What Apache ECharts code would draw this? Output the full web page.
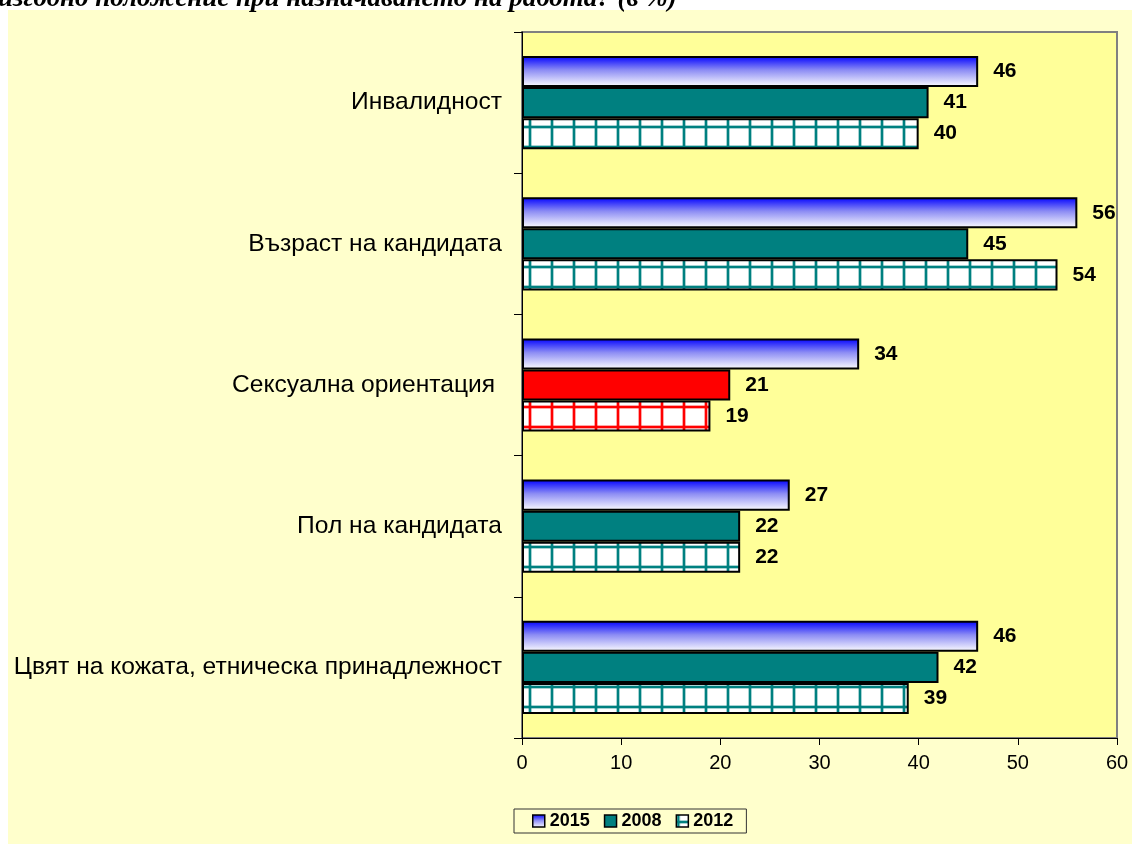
<!DOCTYPE html>
<html>
<head>
<meta charset="utf-8">
<script src="https://cdn.jsdelivr.net/npm/echarts@6/dist/echarts.min.js"></script>
<style>
  html, body { margin: 0; padding: 0; background: #ffffff; }
  #chart { width: 1132px; height: 844px; }
</style>
</head>
<body>
<div id="chart"></div>
<script>
// категории (отгоре надолу)
var categories = ['Инвалидност', 'Възраст на кандидата', 'Сексуална ориентация ', 'Пол на кандидата', 'Цвят на кожата, етническа принадлежност'];
var years = ['2015', '2008', '2012'];
var values2015 = [46, 56, 34, 27, 46];
var values2008 = [41, 45, 21, 22, 42];
var values2012 = [40, 54, 19, 22, 39];
var xTicks = [0, 10, 20, 30, 40, 50, 60];
// индекс на категорията с червени барове
var redIndex = 2;

// шарка "решетка" за 2012
function gridPattern(color) {
  var c = document.createElement('canvas');
  c.width = 22;
  c.height = 20;
  var ctx = c.getContext('2d');
  ctx.fillStyle = '#ffffff';
  ctx.fillRect(0, 0, 22, 20);
  ctx.globalAlpha = 0.35;
  ctx.fillStyle = color;
  ctx.fillRect(0, 0, 4, 20);
  ctx.fillRect(0, 5, 22, 4);
  ctx.globalAlpha = 1;
  ctx.fillRect(1, 0, 2, 20);
  ctx.fillRect(0, 6, 22, 2);
  return { image: c, repeat: 'repeat' };
}

var blueGrad = new echarts.graphic.LinearGradient(0, 0, 0, 1, [
  { offset: 0, color: '#0000ff' },
  { offset: 0.45, color: '#8c8cf4' },
  { offset: 1, color: '#ffffff' }
]);
var teal = '#008080';
var tealGrid = gridPattern('#008080');
var redGrid = gridPattern('#ff0000');

function withRed(arr, redColor) {
  return arr.map(function (v, i) {
    if (i === redIndex) return { value: v, itemStyle: { color: redColor } };
    return v;
  });
}

var labelStyle = {
  show: true,
  position: 'right',
  distance: 15,
  color: '#000',
  fontFamily: 'Arial, Liberation Sans',
  fontWeight: 'bold',
  fontSize: 21
};

var myChart = echarts.init(document.getElementById('chart'));
var option = {
  animation: false,
  backgroundColor: '#ffffff',
  graphic: [
    {
      type: 'rect',
      z: -10,
      shape: { x: 8, y: 10, width: 1124, height: 834 },
      style: { fill: '#ffffcc' },
      silent: true
    }
  ],
  title: {
    text: 'изгодно положение при назначаването на работа? (в %)',
    left: -2,
    top: -14,
    padding: 0,
    z: 10,
    textStyle: {
      fontFamily: 'Liberation Serif, Times New Roman, serif',
      fontStyle: 'italic',
      fontWeight: 'bold',
      fontSize: 27,
      color: '#000'
    }
  },
  legend: {
    data: years,
    left: 514,
    top: 809,
    padding: [3, 13, 3, 18],
    icon: 'rect',
    itemWidth: 12,
    itemHeight: 12,
    itemGap: 14,
    borderColor: '#333',
    borderWidth: 1,
    itemStyle: { borderColor: '#000', borderWidth: 1.5 },
    textStyle: {
      fontFamily: 'Arial, Liberation Sans',
      fontWeight: 'bold',
      fontSize: 18,
      color: '#000'
    }
  },
  grid: {
    left: 522,
    top: 32,
    right: 15,
    bottom: 106,
    show: true,
    backgroundColor: '#ffff99',
    borderColor: '#808080',
    borderWidth: 2
  },
  xAxis: {
    type: 'value',
    min: xTicks[0],
    max: xTicks[xTicks.length - 1],
    interval: 10,
    axisLine: { show: true, lineStyle: { color: '#000', width: 1 } },
    axisTick: { show: true, length: 7, lineStyle: { color: '#000' } },
    splitLine: { show: false },
    axisLabel: {
      margin: 15,
      color: '#000',
      fontFamily: 'Arial, Liberation Sans',
      fontSize: 20
    }
  },
  yAxis: {
    type: 'category',
    inverse: true,
    data: categories,
    axisLine: { show: true, lineStyle: { color: '#000', width: 1 } },
    axisTick: { show: true, length: 8, lineStyle: { color: '#000' } },
    axisLabel: {
      margin: 20,
      color: '#000',
      fontFamily: 'Arial, Liberation Sans',
      fontSize: 24.6
    }
  },
  series: [
    {
      name: years[0],
      type: 'bar',
      data: values2015,
      barCategoryGap: '34%',
      barGap: '0%',
      itemStyle: { color: blueGrad, borderColor: '#000', borderWidth: 2 },
      label: labelStyle
    },
    {
      name: years[1],
      type: 'bar',
      data: withRed(values2008, '#ff0000'),
      barGap: '0%',
      itemStyle: { color: teal, borderColor: '#000', borderWidth: 2 },
      label: labelStyle
    },
    {
      name: years[2],
      type: 'bar',
      data: withRed(values2012, redGrid),
      barGap: '0%',
      itemStyle: { color: tealGrid, borderColor: '#000', borderWidth: 2 },
      label: labelStyle
    }
  ]
};
myChart.setOption(option);
</script>
</body>
</html>
